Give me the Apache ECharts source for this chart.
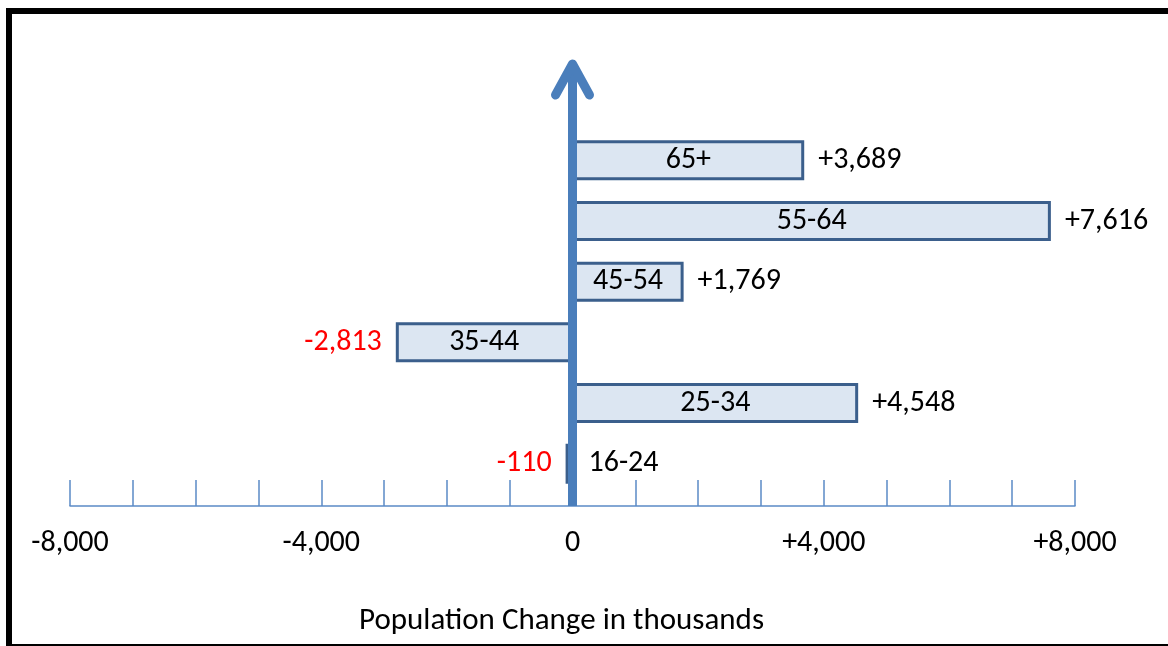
<!DOCTYPE html>
<html>
<head>
<meta charset="utf-8">
<script src="https://cdn.jsdelivr.net/npm/echarts@6/dist/echarts.min.js"></script>
<style>
  html, body { margin: 0; padding: 0; background: #ffffff; }
  #chart { width: 1168px; height: 646px; }
</style>
</head>
<body>
<div id="chart"></div>
<script>
// Age groups (bottom to top) and their population change, in thousands
const ageGroups = ['16-24', '25-34', '35-44', '45-54', '55-64', '65+'];
const changeThousands = [-110, 4548, -2813, 1769, 7616, 3689];

// Value axis range and tick labels
const axisMin = -8000;
const axisMax = 8000;
const axisStep = 1000;
const labelledTicks = [-8000, -4000, 0, 4000, 8000];
const axisTitle = 'Population Change in thousands';

const FONT = 'Carlito, Calibri, Lato, sans-serif';
const FONT_SIZE = 30;
const TITLE_SIZE = 31;
const ARROW_BLUE = '#4a7ebb';
const AXIS_BLUE = '#5b8ac6';
const BAR_FILL = '#dce6f2';
const BAR_EDGE = '#3b5f8c';

const GRID = { left: 70, right: 93, top: 130, height: 364 };
const AXIS_OFFSET = 12;

function signed(v) {
  return (v > 0 ? '+' : '') + v.toLocaleString('en-US');
}

// Category names sit inside their bar; a bar too short to hold its name
// gets the name on the other side of the zero line.
const nameData = changeThousands.map(v => {
  const narrow = Math.abs(v) < 1000;
  return {
    value: v,
    label: narrow ? { position: v < 0 ? 'right' : 'left', distance: 16 } : { position: 'inside' }
  };
});

// Signed values sit just past the end of each bar, red when negative
const valueData = changeThousands.map(v => ({
  value: v,
  label: {
    position: v < 0 ? 'left' : 'right',
    distance: 14,
    color: v < 0 ? '#ff0000' : '#000000'
  }
}));

const chart = echarts.init(document.getElementById('chart'));

chart.setOption({
  animation: false,
  backgroundColor: '#ffffff',
  title: {
    text: axisTitle,
    left: 354,
    top: 601,
    textStyle: { fontFamily: FONT, fontSize: TITLE_SIZE, fontWeight: 'normal', color: '#000000' }
  },
  grid: GRID,
  xAxis: {
    type: 'value',
    min: axisMin,
    max: axisMax,
    interval: axisStep,
    position: 'bottom',
    offset: AXIS_OFFSET,
    axisLine: { show: true, onZero: false, lineStyle: { color: AXIS_BLUE, width: 1.5 } },
    axisTick: { show: true, inside: true, length: 26, lineStyle: { color: AXIS_BLUE, width: 1.5 } },
    splitLine: { show: false },
    axisLabel: {
      margin: 22,
      fontFamily: FONT,
      fontSize: FONT_SIZE,
      color: '#000000',
      formatter: v => (labelledTicks.indexOf(v) >= 0 ? signed(v) : '')
    }
  },
  yAxis: {
    type: 'category',
    data: ageGroups,
    axisLine: { show: false },
    axisTick: { show: false },
    axisLabel: { show: false },
    splitLine: { show: false }
  },
  series: [
    {
      name: 'bars',
      type: 'bar',
      barWidth: 40,
      barGap: '-100%',
      silent: true,
      data: nameData,
      itemStyle: { color: BAR_FILL, borderColor: BAR_EDGE, borderWidth: 3 },
      label: {
        show: true,
        fontFamily: FONT,
        fontSize: FONT_SIZE,
        color: '#000000',
        formatter: p => ageGroups[p.dataIndex]
      }
    },
    {
      name: 'values',
      type: 'bar',
      barWidth: 40,
      barGap: '-100%',
      silent: true,
      data: valueData,
      itemStyle: { color: 'rgba(0,0,0,0)' },
      label: {
        show: true,
        fontFamily: FONT,
        fontSize: FONT_SIZE,
        formatter: p => signed(p.value)
      }
    }
  ]
});

// Vertical zero line drawn as an upward arrow, plus the frame lines
const zeroX = chart.convertToPixel({ xAxisIndex: 0 }, 0);
const baseY = GRID.top + GRID.height + AXIS_OFFSET;
const tipY = 64;

chart.setOption({
  graphic: [
    { type: 'rect', z: 20, silent: true, shape: { x: 6, y: 8, width: 1162, height: 6 }, style: { fill: '#000000' } },
    { type: 'rect', z: 20, silent: true, shape: { x: 6, y: 8, width: 6, height: 638 }, style: { fill: '#000000' } },
    { type: 'rect', z: 20, silent: true, shape: { x: 6, y: 644, width: 1162, height: 2 }, style: { fill: '#000000' } },
    {
      type: 'polyline', z: 10, silent: true,
      shape: { points: [[zeroX, baseY], [zeroX, tipY]] },
      style: { stroke: ARROW_BLUE, lineWidth: 9, fill: null }
    },
    {
      type: 'polyline', z: 10, silent: true,
      shape: { points: [[zeroX - 17, tipY + 31], [zeroX, tipY], [zeroX + 17, tipY + 31]] },
      style: { stroke: ARROW_BLUE, lineWidth: 9, lineCap: 'round', lineJoin: 'round', fill: null }
    }
  ]
});
</script>
</body>
</html>
